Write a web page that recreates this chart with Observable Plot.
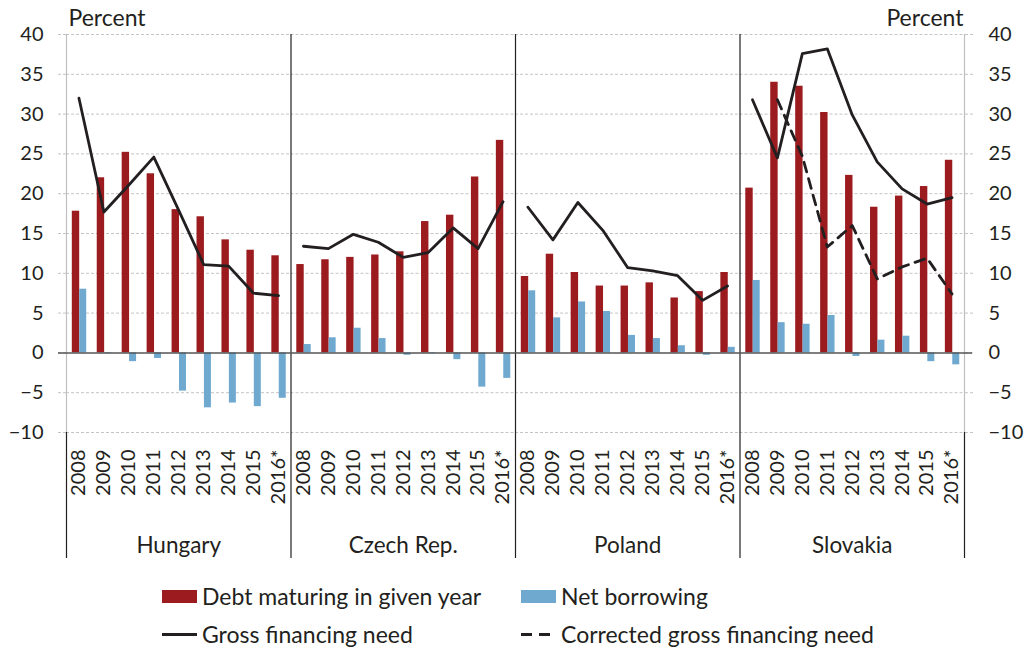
<!DOCTYPE html>
<html><head><meta charset="utf-8">
<script src="https://cdn.jsdelivr.net/npm/d3@7"></script>
<script src="https://cdn.jsdelivr.net/npm/@observablehq/plot@0.6"></script>
<style>
body{margin:0;background:#fff;font-family:Lato,sans-serif;color:#231f20}
#legend{position:relative;height:75px;font-size:23px;width:1025px}
.item{position:absolute;display:flex;align-items:center;gap:5px;white-space:nowrap;line-height:28px}
.sw{display:inline-block;width:35px;height:13px}
</style></head><body>
<div id="chart"></div>
<div id="legend">
  <div class="item" style="left:162px;top:7px"><span class="sw" style="background:#9B1B1F"></span>Debt maturing in given year</div>
  <div class="item" style="left:521px;top:7px"><span class="sw" style="background:#6FA9D0"></span>Net borrowing</div>
  <div class="item" style="left:162px;top:45px"><svg width="35" height="13"><line x1="0" x2="35" y1="6.5" y2="6.5" stroke="#231f20" stroke-width="2.8"/></svg>Gross financing need</div>
  <div class="item" style="left:521px;top:45px"><svg width="35" height="13"><line x1="0" x2="31" y1="6.5" y2="6.5" stroke="#231f20" stroke-width="2.8" stroke-dasharray="11,7"/></svg>Corrected gross financing need</div>
</div>
<script>
const countries = ["Hungary", "Czech Rep.", "Poland", "Slovakia"];
const years = ["2008", "2009", "2010", "2011", "2012", "2013", "2014", "2015", "2016*"];
const yTicks = [-10, -5, 0, 5, 10, 15, 20, 25, 30, 35, 40];

// Debt maturing in given year (per country, 2008..2016*)
const debtMaturing = [
  17.8, 22.0, 25.2, 22.5, 18.0, 17.1, 14.2, 12.9, 12.2,
  11.1, 11.7, 12.0, 12.3, 12.7, 16.5, 17.3, 22.1, 26.7,
  9.6, 12.4, 10.1, 8.4, 8.4, 8.8, 6.9, 7.7, 10.1,
  20.7, 34.0, 33.5, 30.2, 22.3, 18.3, 19.7, 20.9, 24.2
];
// Net borrowing
const netBorrowing = [
  8.0, -0.1, -1.1, -0.7, -4.8, -6.9, -6.3, -6.75, -5.7,
  1.05, 1.9, 3.1, 1.8, -0.3, -0.1, -0.85, -4.3, -3.2,
  7.8, 4.4, 6.4, 5.2, 2.2, 1.8, 0.9, -0.3, 0.7,
  9.1, 3.8, 3.6, 4.7, -0.45, 1.6, 2.1, -1.1, -1.5
];
// Gross financing need
const grossNeed = [
  32.0, 17.7, 21.1, 24.6, 17.9, 11.1, 10.9, 7.5, 7.2,
  13.4, 13.1, 14.9, 13.9, 12.0, 12.6, 15.7, 13.1, 19.0,
  18.3, 14.2, 18.9, 15.4, 10.7, 10.3, 9.7, 6.6, 8.4,
  31.8, 24.5, 37.6, 38.2, 29.9, 24.0, 20.6, 18.7, 19.5
];
// Corrected gross financing need (Slovakia only)
const correctedCountry = "Slovakia";
const correctedNeed = [null, 31.8, 24.7, 13.3, 16.0, 9.3, 10.8, 11.9, 7.4];

const colors = {debt: "#9B1B1F", net: "#6FA9D0", line: "#231f20", grid: "#c4c4c4", edge: "#bfbfbf"};

const rows = [];
countries.forEach((c, i) => years.forEach((y, j) => {
  const k = i * years.length + j;
  rows.push({country: c, year: y, debt: debtMaturing[k], net: netBorrowing[k], gross: grossNeed[k],
    corrected: c === correctedCountry ? correctedNeed[j] : null});
}));

const W = 1025, H = 575, ML = 66, MR = 61, MT = 34, MB = 143;
const bw = (W - ML - MR) / countries.length / years.length;
const frameH = H - MT - MB;
const below = 126;

const leftEdges = countries.map(c => ({country: c, year: years[0]}));
const rightEdge = [{country: countries[countries.length - 1], year: years[years.length - 1]}];
const first = countries[0], last = countries[countries.length - 1];

const chart = Plot.plot({
  width: W, height: H, marginLeft: ML, marginRight: MR, marginTop: MT, marginBottom: MB,
  style: {fontFamily: "Lato, sans-serif", fontSize: "20px", color: "#231f20", background: "#fff"},
  fx: {domain: countries, padding: 0, round: false, axis: null},
  x: {domain: years, padding: 0, round: false, axis: null},
  y: {domain: [-10, 40], axis: null},
  marks: [
    Plot.gridY(yTicks.filter(v => v !== 0), {stroke: colors.grid, strokeOpacity: 1, strokeDasharray: "3,2"}),
    Plot.axisY(yTicks, {anchor: "left", tickSize: 8, tickPadding: 15, stroke: colors.grid, strokeDasharray: "3,2", fill: "#231f20", fontSize: 20, label: null}),
    Plot.axisY(yTicks, {anchor: "right", tickSize: 8, tickPadding: 16, stroke: colors.grid, strokeDasharray: "3,2", fill: "#231f20", fontSize: 20, label: null}),
    Plot.axisX({anchor: "bottom", tickRotate: -90, tickSize: 0, tickPadding: 17, fontSize: 20, label: null, fill: "#231f20"}),
    Plot.axisFx({anchor: "bottom", tickSize: 0, tickPadding: 105, fontSize: 22.5, label: null, fill: "#231f20"}),
    // panel separators: upper part
    Plot.ruleX(leftEdges.filter(d => d.country !== first), {fx: "country", x: "year", dx: -bw / 2, stroke: colors.line, strokeWidth: 1.2}),
    Plot.ruleX(leftEdges.filter(d => d.country === first), {fx: "country", x: "year", dx: -bw / 2, stroke: colors.edge, strokeWidth: 1.2}),
    Plot.ruleX(rightEdge, {fx: "country", x: "year", dx: bw / 2, stroke: colors.edge, strokeWidth: 1.2}),
    // panel separators: lower part (label area)
    Plot.ruleX(leftEdges, {fx: "country", x: "year", dx: -bw / 2, stroke: colors.line, strokeWidth: 1.2, insetTop: frameH, insetBottom: -below}),
    Plot.ruleX(rightEdge, {fx: "country", x: "year", dx: bw / 2, stroke: colors.line, strokeWidth: 1.2, insetTop: frameH, insetBottom: -below}),
    Plot.barY(rows, {fx: "country", x: "year", y: "debt", fill: colors.debt, insetLeft: 5.8, insetRight: bw - 13.2}),
    Plot.barY(rows, {fx: "country", x: "year", y: "net", fill: colors.net, insetLeft: 13.2, insetRight: bw - 20.2}),
    // zero line
    Plot.ruleY(countries.filter(c => c !== first && c !== last).map(c => ({country: c})), {fx: "country", y: () => 0, stroke: "#555", strokeWidth: 1.5}),
    Plot.ruleY([{country: first}], {fx: "country", y: () => 0, stroke: "#555", strokeWidth: 1.5, insetLeft: -8}),
    Plot.ruleY([{country: last}], {fx: "country", y: () => 0, stroke: "#555", strokeWidth: 1.5, insetRight: -8}),
    Plot.line(rows, {fx: "country", x: "year", y: "gross", stroke: colors.line, strokeWidth: 2.8}),
    Plot.line(rows.filter(d => d.corrected != null), {fx: "country", x: "year", y: "corrected", stroke: colors.line, strokeWidth: 2.8, strokeDasharray: "10,7"}),
    Plot.text([{country: first}], {fx: "country", text: () => "Percent", frameAnchor: "top-left", lineAnchor: "middle", textAnchor: "start", dx: 2, dy: -16, fontSize: 23, fill: "#231f20"}),
    Plot.text([{country: last}], {fx: "country", text: () => "Percent", frameAnchor: "top-right", lineAnchor: "middle", textAnchor: "end", dx: -1, dy: -16, fontSize: 23, fill: "#231f20"})
  ]
});
document.getElementById("chart").appendChild(chart);
</script>
</body></html>
